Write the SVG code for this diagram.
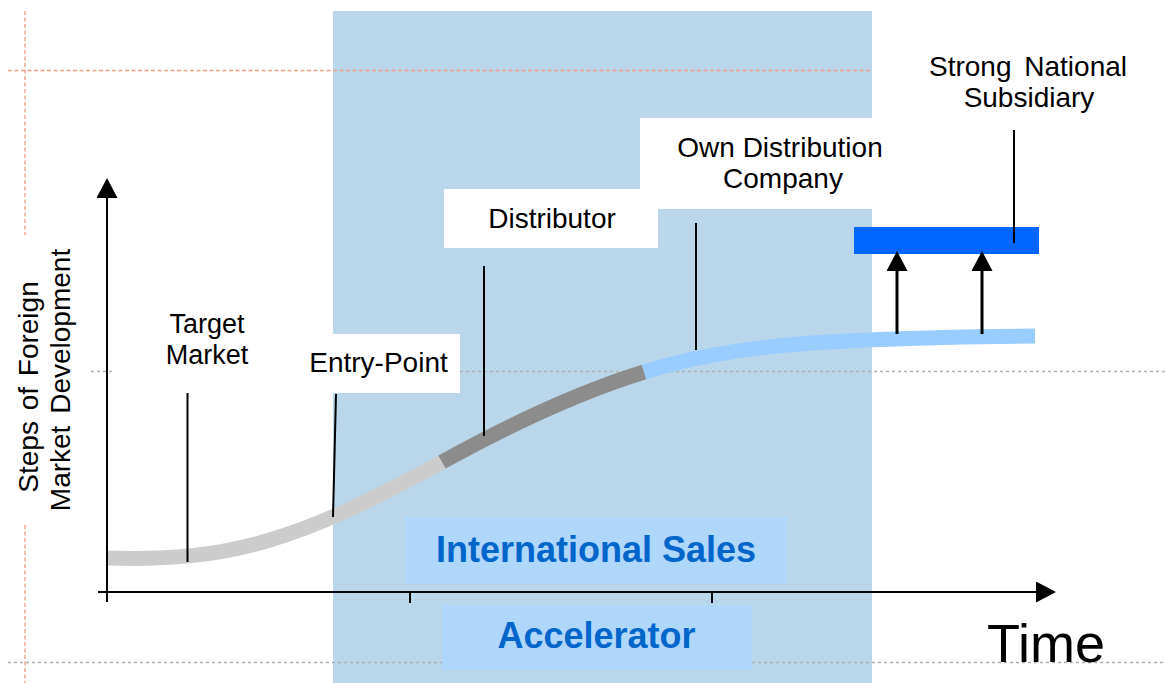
<svg xmlns="http://www.w3.org/2000/svg" width="1165" height="683" viewBox="0 0 1165 683">
<style>
.lbl{font-family:"Liberation Sans",Arial,sans-serif;font-size:28px;fill:#000;text-anchor:middle}
.big{font-family:"Liberation Sans",Arial,sans-serif;font-size:36px;font-weight:bold;fill:#0066cc;text-anchor:middle}
.lead{stroke:#000;stroke-width:2;fill:none}
.axis{stroke:#000;stroke-width:2;fill:none}
.orng{stroke:#f29a82;stroke-width:1.3;stroke-dasharray:4 2.5;fill:none}
.gry{stroke:#b0b0b0;stroke-width:1.3;stroke-dasharray:3 3;fill:none}
.wbox{fill:#fff}
.band{fill:none;stroke-width:15;stroke-linecap:butt}
</style>
<defs>
<marker id="ah" viewBox="0 0 20 21" refX="0" refY="10.5" markerWidth="20" markerHeight="21" orient="auto" markerUnits="userSpaceOnUse">
<path d="M0,0 L20,10.5 L0,21 z" fill="#000"/>
</marker>
</defs>
<rect width="1165" height="683" fill="#fff"/>
<g id="panel">
<rect x="333" y="11" width="539" height="672" fill="#b9d6eb"/>
</g>
<g id="guides">
<line class="orng" x1="25" y1="11" x2="25" y2="235"/>
<line class="orng" x1="25" y1="525" x2="25" y2="683"/>
<line class="orng" x1="8" y1="70.5" x2="870" y2="70.5"/>
<line class="gry" x1="91" y1="371.5" x2="113" y2="371.5"/>
<line class="gry" x1="460" y1="371.5" x2="1165" y2="371.5"/>
<line class="gry" x1="8" y1="662.5" x2="1165" y2="662.5"/>
</g>
<g id="node-entry-box"><rect class="wbox" x="300" y="334" width="160" height="59"/></g>
<g id="node-distributor-box"><rect class="wbox" x="444" y="189" width="214" height="59"/></g>
<g id="node-own-box"><rect class="wbox" x="640" y="118" width="235" height="91"/></g>
<g id="node-intl-sales">
<rect x="405" y="517" width="382" height="67" fill="#afd6fb"/>
<text class="big" x="596" y="562">International Sales</text>
</g>
<g id="node-accelerator">
<rect x="442" y="605" width="310" height="65" fill="#afd6fb"/>
<text class="big" x="596.5" y="648">Accelerator</text>
</g>
<g id="node-curve">
<path class="band" stroke="#cccccc" d="M107,558 C230,562 300,540 442,462"/>
<path class="band" stroke="#8c8c8c" d="M442,462 C500,430 570,395 644,372"/>
<path class="band" stroke="#99ccff" d="M644,372 C720,348 800,338 1035,336"/>
</g>
<g id="node-subsidiary-bar">
<rect x="854" y="227" width="185" height="27" fill="#0066ff"/>
</g>
<g id="connectors">
<line class="axis" x1="107" y1="602" x2="107" y2="198" marker-end="url(#ah)"/>
<line class="axis" x1="98" y1="592" x2="1036" y2="592" marker-end="url(#ah)"/>
<line class="axis" x1="410" y1="592" x2="410" y2="603"/>
<line class="axis" x1="712" y1="592" x2="712" y2="603"/>
<line class="lead" x1="187.5" y1="393" x2="187.5" y2="562"/>
<line class="lead" x1="336" y1="394" x2="333" y2="517"/>
<line class="lead" x1="484" y1="266" x2="484" y2="436"/>
<line class="lead" x1="696" y1="223" x2="696" y2="350"/>
<line class="lead" x1="1014" y1="130" x2="1014" y2="243"/>
<line stroke="#000" stroke-width="3" x1="897" y1="334" x2="897" y2="271" marker-end="url(#ah)"/>
<line stroke="#000" stroke-width="3" x1="982" y1="334" x2="982" y2="271" marker-end="url(#ah)"/>
</g>
<g id="node-target-market">
<text class="lbl" style="font-size:27px" x="207" y="333">Target</text>
<text class="lbl" style="font-size:27px" x="207" y="364">Market</text>
</g>
<g id="node-entry-point">
<text class="lbl" x="378.5" y="372">Entry-Point</text>
</g>
<g id="node-distributor">
<text class="lbl" x="552" y="228">Distributor</text>
</g>
<g id="node-own-distribution">
<text class="lbl" x="780" y="157">Own Distribution</text>
<text class="lbl" x="783" y="188">Company</text>
</g>
<g id="node-strong-national">
<text class="lbl" style="word-spacing:5px" x="1028" y="76">Strong National</text>
<text class="lbl" x="1029" y="107">Subsidiary</text>
</g>
<g id="node-y-label">
<text class="lbl" style="word-spacing:3px" transform="translate(38,387) rotate(-90)">Steps of Foreign</text>
<text class="lbl" style="word-spacing:4px" transform="translate(70,380) rotate(-90)">Market Development</text>
</g>
<g id="node-time">
<text x="987" y="662" style="font-family:'Liberation Sans',Arial,sans-serif;font-size:54px;fill:#000">Time</text>
</g>
</svg>
